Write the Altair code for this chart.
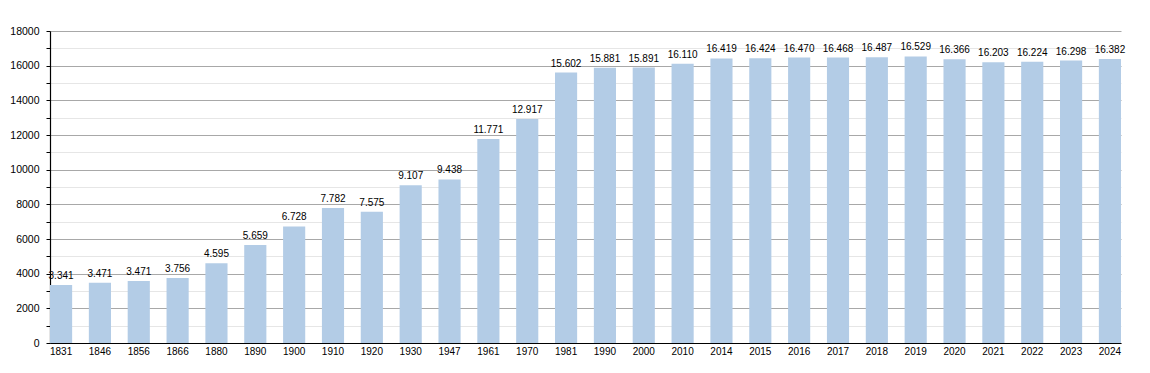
import altair as alt
import pandas as pd

years = ["1831", "1846", "1856", "1866", "1880", "1890", "1900", "1910", "1920", "1930",
         "1947", "1961", "1970", "1981", "1990", "2000", "2010", "2014", "2015", "2016",
         "2017", "2018", "2019", "2020", "2021", "2022", "2023", "2024"]
values = [3341, 3471, 3580, 3756, 4595, 5659, 6728, 7782, 7575, 9107,
          9438, 11771, 12917, 15602, 15881, 15891, 16110, 16419, 16424, 16470,
          16468, 16487, 16529, 16366, 16203, 16224, 16298, 16382]
labels = ["3.341", "3.471", "3.471", "3.756", "4.595", "5.659", "6.728", "7.782", "7.575", "9.107",
          "9.438", "11.771", "12.917", "15.602", "15.881", "15.891", "16.110", "16.419", "16.424", "16.470",
          "16.468", "16.487", "16.529", "16.366", "16.203", "16.224", "16.298", "16.382"]
y_ticks = list(range(0, 18001, 1000))

df = pd.DataFrame({"year": years, "value": values, "label": labels})

FONT = "Liberation Sans"

x = alt.X("year:N", sort=None, title=None,
          scale=alt.Scale(paddingInner=0.43, paddingOuter=0),
          axis=alt.Axis(labelAngle=0, labelFont=FONT, labelFontSize=10, labelColor="#000",
                        domainColor="#000", domainWidth=1.2, ticks=False, labelPadding=3,
                        grid=False))
y = alt.Y("value:Q", title=None,
          scale=alt.Scale(domain=[0, 18000], nice=False, zero=True),
          axis=alt.Axis(values=y_ticks,
                        labelExpr="datum.value % 2000 === 0 ? datum.value : ''",
                        labelOverlap=False,
                        labelFont=FONT, labelFontSize=10.5, labelColor="#000",
                        domainColor="#000", domainWidth=1.2,
                        tickColor="#000", tickSize=4, labelPadding=7,
                        grid=True,
                        gridColor={"condition": {"test": "datum.value % 2000 === 0", "value": "#a8a8a8"},
                                   "value": "#e6e6e6"}))

bars = alt.Chart(df).mark_bar(color="#b3cce6").encode(x=x, y=y)
text = alt.Chart(df).mark_text(baseline="alphabetic", dy=-6, font=FONT, fontSize=10, color="#000").encode(
    x=x, y=y, text="label:N")

chart = (bars + text).resolve_axis(y="shared").properties(
    width=1071, height=312,
    autosize=alt.AutoSizeParams(type="none"),
    padding={"left": 42, "top": 23, "right": 20, "bottom": 30},
).configure_view(stroke=None)

chart.save("out.html", embed_options={"renderer": "svg", "actions": False})
